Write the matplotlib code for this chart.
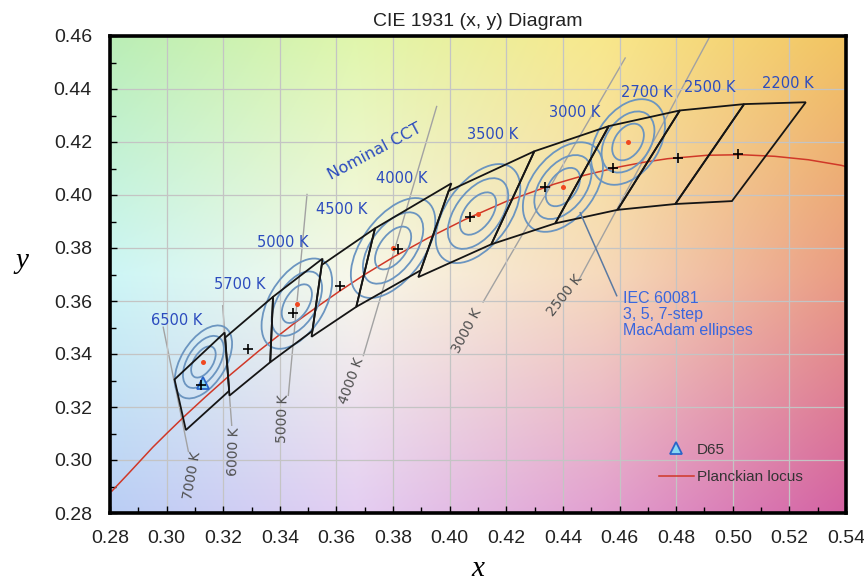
import numpy as np
import matplotlib
matplotlib.use('Agg')
import matplotlib.pyplot as plt
from matplotlib.patches import Ellipse, Polygon
from matplotlib.lines import Line2D

# ---------------- data ----------------
# Planckian locus (CIE 1931 x, y)
locus_x = [0.2807, 0.2867, 0.2951, 0.3003, 0.3064, 0.3135, 0.3221, 0.3325, 0.3451, 0.3525,
           0.3608, 0.3700, 0.3805, 0.3924, 0.4053, 0.4200, 0.4369, 0.4478, 0.4599, 0.4683,
           0.4770, 0.4910, 0.5030, 0.5148, 0.5267, 0.5383, 0.5491]
locus_y = [0.2883, 0.2951, 0.3048, 0.3103, 0.3166, 0.3236, 0.3318, 0.3411, 0.3516, 0.3573,
           0.3635, 0.3700, 0.3768, 0.3838, 0.3907, 0.3976, 0.4041, 0.4075, 0.4106, 0.4123,
           0.4137, 0.4150, 0.4152, 0.4146, 0.4133, 0.4112, 0.4082]

# Nominal CCT (ANSI) centres and quadrangles
nominal_labels = ["6500 K", "5700 K", "5000 K", "4500 K", "4000 K",
                  "3500 K", "3000 K", "2700 K", "2500 K", "2200 K"]
nominal_x = [0.3123, 0.3287, 0.3447, 0.3611, 0.3818, 0.4073, 0.4338, 0.4578, 0.4806, 0.5018]
nominal_y = [0.3282, 0.3417, 0.3553, 0.3658, 0.3797, 0.3917, 0.4030, 0.4101, 0.4141, 0.4153]
label_x = [0.3036, 0.3259, 0.3412, 0.3619, 0.3831, 0.4150, 0.4443, 0.4697, 0.4918, 0.5193]
label_y = [0.3526, 0.3664, 0.3821, 0.3946, 0.4061, 0.4228, 0.4312, 0.4388, 0.4406, 0.4420]

quad_x = [[0.3205, 0.3028, 0.3068, 0.3221],
          [0.3376, 0.3207, 0.3222, 0.3366],
          [0.3551, 0.3376, 0.3366, 0.3515],
          [0.3736, 0.3548, 0.3512, 0.3670],
          [0.4006, 0.3736, 0.3670, 0.3898],
          [0.4299, 0.3996, 0.3889, 0.4147],
          [0.4562, 0.4299, 0.4147, 0.4373],
          [0.4813, 0.4562, 0.4373, 0.4593],
          [0.5040, 0.4813, 0.4593, 0.4797],
          [0.5258, 0.5040, 0.4797, 0.4997]]
quad_y = [[0.3481, 0.3304, 0.3113, 0.3261],
          [0.3616, 0.3462, 0.3243, 0.3369],
          [0.3760, 0.3616, 0.3369, 0.3487],
          [0.3874, 0.3736, 0.3465, 0.3578],
          [0.4044, 0.3874, 0.3578, 0.3716],
          [0.4165, 0.4015, 0.3690, 0.3814],
          [0.4260, 0.4165, 0.3814, 0.3893],
          [0.4319, 0.4260, 0.3893, 0.3944],
          [0.4343, 0.4319, 0.3944, 0.3966],
          [0.4350, 0.4343, 0.3966, 0.3977]]

# IEC 60081 centres and 1-step ellipse semi-axes / angle
iec_x = [0.313, 0.346, 0.380, 0.410, 0.440, 0.463]
iec_y = [0.337, 0.359, 0.380, 0.393, 0.403, 0.420]
iec_a = [0.00216, 0.00266, 0.00304, 0.00300, 0.00270, 0.00250]
iec_b = [0.00114, 0.00142, 0.00160, 0.00164, 0.00162, 0.00160]
iec_theta = [61.0, 61.5, 57.0, 57.0, 56.0, 60.0]
macadam_steps = [3, 5, 7]

# Isotemperature lines
iso_labels = ["7000 K", "6000 K", "5000 K", "4000 K", "3000 K", "2500 K"]
iso_x1 = [0.2988, 0.3198, 0.3496, 0.3954, 0.4620, 0.4920]
iso_y1 = [0.3501, 0.3582, 0.4002, 0.4334, 0.4517, 0.4600]
iso_x2 = [0.3077, 0.3230, 0.3430, 0.3695, 0.4118, 0.4454]
iso_y2 = [0.3032, 0.3131, 0.3244, 0.3394, 0.3596, 0.3675]
iso_lab_x = [0.3089, 0.3238, 0.3412, 0.3654, 0.4060, 0.4408]
iso_lab_y = [0.2943, 0.3032, 0.3156, 0.3300, 0.3488, 0.3620]
iso_rot = [80, 88, 88, 70, 62, 52]

d65_x, d65_y = 0.3127, 0.3290

# ---------------- figure ----------------
fig = plt.figure(figsize=(8.64, 5.84), dpi=100)
ax = fig.add_axes([110/864, 1-513/584, 736/864, 477/584])
xmin, xmax, ymin, ymax = 0.28, 0.54, 0.28, 0.46
ax.set_xlim(xmin, xmax)
ax.set_ylim(ymin, ymax)

# background gradient (style only)
cols = np.array([
    [[186, 238, 182], [224, 246, 172], [248, 232, 140], [242, 196, 98]],
    [[205, 246, 246], [248, 248, 234], [246, 218, 188], [234, 156, 130]],
    [[186, 206, 245], [228, 206, 242], [226, 160, 208], [212, 98, 162]],
]) / 255.0
ny, nx = 240, 320
gy = np.linspace(0, 2, ny)
gx = np.linspace(0, 3, nx)
GX, GY = np.meshgrid(gx, gy)
i0 = np.clip(np.floor(GY).astype(int), 0, 1)
j0 = np.clip(np.floor(GX).astype(int), 0, 2)
fy = (GY - i0)[..., None]
fx = (GX - j0)[..., None]
img = (cols[i0, j0] * (1-fx) * (1-fy) + cols[i0, j0+1] * fx * (1-fy)
       + cols[i0+1, j0] * (1-fx) * fy + cols[i0+1, j0+1] * fx * fy)
ax.imshow(img, extent=[xmin, xmax, ymin, ymax], origin='upper', aspect='auto',
          interpolation='bilinear', zorder=0)

# grid / ticks
ax.set_xticks(np.arange(0.28, 0.5401, 0.02))
ax.set_yticks(np.arange(0.28, 0.4601, 0.02))
ax.set_xticks(np.arange(0.28, 0.5401, 0.01), minor=True)
ax.set_yticks(np.arange(0.28, 0.4601, 0.01), minor=True)
ax.xaxis.set_major_formatter(matplotlib.ticker.FormatStrFormatter('%.2f'))
ax.yaxis.set_major_formatter(matplotlib.ticker.FormatStrFormatter('%.2f'))
ax.grid(True, which='major', color='#c4c4c4', lw=0.9, zorder=1)
ax.set_axisbelow(False)
ax.tick_params(which='both', direction='in', top=False, right=False, width=1, color='black')
ax.tick_params(which='major', length=5)
ax.tick_params(which='minor', length=4)
ax.tick_params(axis='x', pad=12, labelsize=14)
ax.tick_params(axis='y', pad=13, labelsize=14)
for lab in ax.get_xticklabels() + ax.get_yticklabels():
    lab.set_fontfamily('Liberation Sans')
    lab.set_color('#222222')
for sp in ax.spines.values():
    sp.set_linewidth(2.6)
    sp.set_zorder(10)

# isotemperature lines
for i in range(len(iso_labels)):
    ax.plot([iso_x1[i], iso_x2[i]], [iso_y1[i], iso_y2[i]], color='#a2a2a2', lw=1.0, zorder=2)
    ax.text(iso_lab_x[i], iso_lab_y[i], iso_labels[i], rotation=iso_rot[i], ha='center', va='center',
            fontsize=10, color='#505050', family='DejaVu Sans', zorder=3)

# Planckian locus
ax.plot(locus_x, locus_y, color='#d03828', lw=1.1, zorder=4)

# MacAdam ellipses
for i in range(len(iec_x)):
    for n in macadam_steps:
        e = Ellipse((iec_x[i], iec_y[i]), 2*n*iec_a[i], 2*n*iec_b[i], angle=iec_theta[i],
                    fill=False, edgecolor='#6b95c0', lw=1.3, zorder=5)
        ax.add_patch(e)
ax.plot(iec_x, iec_y, 'o', ms=3.6, color='#f04820', mec='none', zorder=7)

# quadrangles
for i in range(len(quad_x)):
    poly = Polygon(list(zip(quad_x[i], quad_y[i])), closed=True, fill=False,
                   edgecolor='#151515', lw=1.3, zorder=6)
    ax.add_patch(poly)

# D65
ax.plot([d65_x], [d65_y], '^', ms=9, mfc='#88d8f4', mec='#2a64c8', mew=1.3, zorder=7)
# nominal centres
ax.plot(nominal_x, nominal_y, '+', ms=7, mew=1.2, color='black', zorder=8)

# labels
for i in range(len(nominal_labels)):
    ax.text(label_x[i], label_y[i], nominal_labels[i], ha='center', va='center',
            fontsize=10.5, color='#2c4cbe', family='DejaVu Sans', zorder=9)
ax.text(0.3736, 0.4165, "Nominal CCT", rotation=28, ha='center', va='center',
        fontsize=11.5, color='#2c4cbe', family='DejaVu Sans', zorder=9)

ax.plot([0.4590, 0.4461], [0.3620, 0.3933], color='#5b7aa2', lw=1.1, zorder=6)
ax.text(0.4613, 0.3636, "IEC 60081\n3, 5, 7-step\nMacAdam ellipses", ha='left', va='top',
        fontsize=11.5, color='#3a66de', family='Liberation Sans', linespacing=1.05, zorder=9)

# legend
handles = [Line2D([], [], marker='^', ls='none', ms=9, mfc='#88d8f4', mec='#2a64c8', mew=1.3),
           Line2D([], [], color='#d03828', lw=1.1)]
leg = ax.legend(handles, ["D65", "Planckian locus"], loc='center left',
                bbox_to_anchor=(0.735, 0.104), frameon=False, handlelength=2.3,
                handletextpad=0.2, labelspacing=0.9, borderpad=0,
                prop={'family': 'Liberation Sans', 'size': 11})
for t in leg.get_texts():
    t.set_color('#333333')
leg.set_zorder(11)

ax.set_title("CIE 1931 (x, y) Diagram", fontsize=14, family='Liberation Sans', pad=7, color='#222222')
ax.set_xlabel("x", fontsize=21, family='Liberation Serif', style='italic')
ax.set_ylabel("y", fontsize=21, family='Liberation Serif', style='italic', rotation=0)
ax.xaxis.set_label_coords(0.5, -0.09)
ax.yaxis.set_label_coords(-0.12, 0.50)

fig.savefig('out.png', dpi=100)
